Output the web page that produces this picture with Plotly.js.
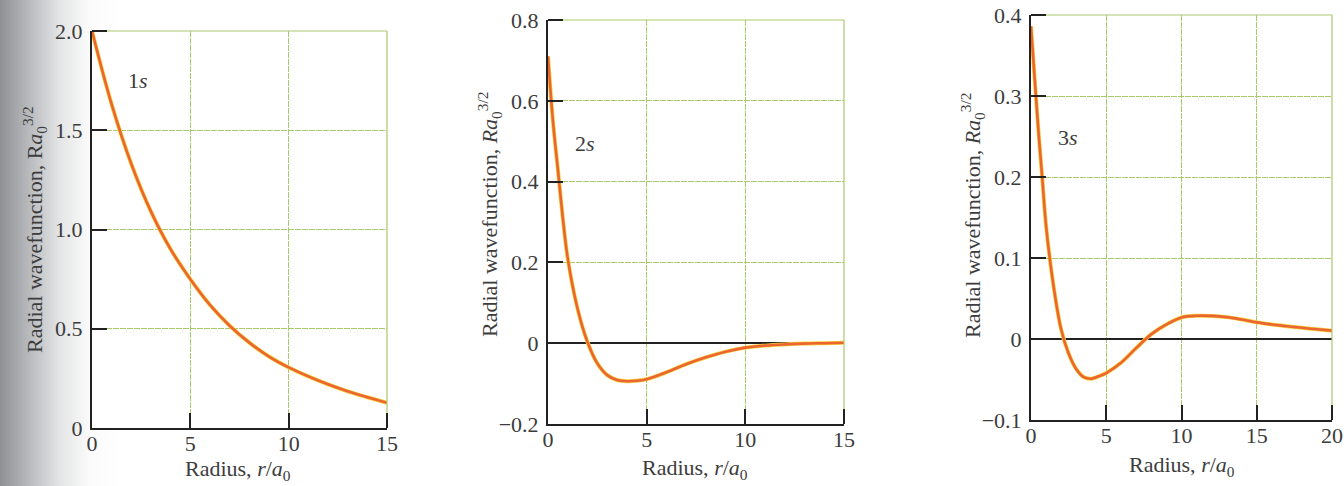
<!DOCTYPE html>
<html>
<head>
<meta charset="utf-8">
<script src="https://cdn.plot.ly/plotly-3.0.1.min.js"></script>
<style>
  html, body { margin: 0; padding: 0; }
  body {
    width: 1344px; height: 486px; overflow: hidden;
    background: linear-gradient(to right, #8e9094 0px, #b9bbbe 30px, #e4e5e6 60px, #fbfbfb 90px, #ffffff 120px);
  }
  #chart { width: 1344px; height: 486px; }
</style>
</head>
<body>
<div id="chart"></div>
<script>
// ---- Data ----
const r1s = [0, 1, 2, 3, 4, 5, 6, 7, 8, 9, 10, 11, 12, 13, 14, 15];
const R1s = [2.0, 1.63, 1.33, 1.09, 0.90, 0.75, 0.62, 0.515, 0.43, 0.36, 0.305, 0.26, 0.22, 0.185, 0.155, 0.127];

const r2s = [0, 0.25, 0.5, 0.75, 1, 1.5, 2, 2.5, 3, 3.5, 4, 4.5, 5, 6, 7, 8, 9, 10, 11, 12, 13, 14, 15];
const R2s = [0.71, 0.55, 0.43, 0.31, 0.21, 0.085, 0.003, -0.05, -0.079, -0.091, -0.094, -0.093, -0.089, -0.072, -0.052, -0.035, -0.021, -0.011, -0.006, -0.003, -0.001, 0.0, 0.001];

const r3s = [0, 0.25, 0.5, 0.75, 1, 1.5, 2, 2.5, 3, 3.5, 4, 4.5, 5, 6, 7, 8, 9, 10, 11, 12, 13, 14, 15, 16, 17, 18, 19, 20];
const R3s = [0.386, 0.32, 0.255, 0.198, 0.14, 0.065, 0.012, -0.018, -0.037, -0.047, -0.049, -0.046, -0.042, -0.029, -0.011, 0.006, 0.018, 0.0266, 0.0287, 0.0285, 0.027, 0.024, 0.0205, 0.018, 0.0158, 0.0138, 0.012, 0.0103];

const labels = ["1s", "2s", "3s"];
const labelX = [1.73, 1.27, 1.68];
const labelY = [1.75, 0.495, 0.249];

const xTicks1 = [0, 5, 10, 15];
const xTicks3 = [0, 5, 10, 15, 20];
const yTicks1 = [0, 0.5, 1.0, 1.5, 2.0];
const yText1 = ["0", "0.5", "1.0", "1.5", "2.0"];
const yTicks2 = [-0.2, 0, 0.2, 0.4, 0.6, 0.8];
const yText2 = ["\u22120.2", "0", "0.2", "0.4", "0.6", "0.8"];
const yTicks3 = [-0.1, 0, 0.1, 0.2, 0.3, 0.4];
const yText3 = ["\u22120.1", "0", "0.1", "0.2", "0.3", "0.4"];

// ---- Styling ----
const FONT = "Liberation Serif, DejaVu Serif, serif";
const TXT = "#3c3c3c";
const GRID = "#a9c96b";
const CURVE = "#ec6530";

function curve(x, y, xa, ya) {
  return [
    { x: x, y: y, xaxis: xa, yaxis: ya, type: "scatter", mode: "lines",
      line: { color: "#f4d03c", width: 4, shape: "spline", smoothing: 1 }, hoverinfo: "skip", showlegend: false },
    { x: x, y: y, xaxis: xa, yaxis: ya, type: "scatter", mode: "lines",
      line: { color: CURVE, width: 2.6, shape: "spline", smoothing: 1 }, showlegend: false }
  ];
}

const data = [].concat(
  curve(r1s, R1s, "x", "y"),
  curve(r2s, R2s, "x2", "y2"),
  curve(r3s, R3s, "x3", "y3")
);

function xax(domain, range, ticks, anchor) {
  return {
    domain: domain, range: range, anchor: anchor,
    tickvals: ticks, ticktext: ticks.map(String),
    ticks: "inside", ticklen: 15, tickwidth: 2, tickcolor: "#222",
    showline: true, linecolor: "#222", linewidth: 2,
    showgrid: true, gridcolor: GRID, gridwidth: 1, griddash: "6px,1px",
    zeroline: false, fixedrange: true, ticklabelstandoff: -5,
    tickfont: { family: FONT, size: 22, color: TXT }
  };
}
function yax(domain, range, ticks, text, anchor, zl) {
  return {
    domain: domain, range: range, anchor: anchor,
    tickvals: ticks, ticktext: text,
    ticks: "inside", ticklen: 15, tickwidth: 2, tickcolor: "#222",
    showline: true, linecolor: "#222", linewidth: 2,
    showgrid: true, gridcolor: GRID, gridwidth: 1, griddash: "6px,1px",
    zeroline: zl, zerolinecolor: "#222", zerolinewidth: 1.5,
    fixedrange: true, ticklabelstandoff: 3,
    tickfont: { family: FONT, size: 22, color: TXT }
  };
}

const annotations = [];
["x", "x2", "x3"].forEach(function (xa, i) {
  annotations.push({
    x: labelX[i], y: labelY[i], xref: xa, yref: ["y", "y2", "y3"][i],
    text: labels[i].slice(0, 1) + "<i>" + labels[i].slice(1) + "</i>",
    showarrow: false, xanchor: "left", yanchor: "middle",
    font: { family: FONT, size: 22, color: TXT }
  });
});
const xTitleX = [238, 695, 1182];
const xTitleBottom = [486, 485, 482];
const yTitleX = [35, 489, 972];
const yTitleY = [230, 214, 215];
const yTitleText = [
  "Radial wavefunction, R<i>a</i><sub>0</sub><sup>3/2</sup>",
  "Radial wavefunction, <i>Ra</i><sub>0</sub><sup>3/2</sup>",
  "Radial wavefunction, <i>Ra</i><sub>0</sub><sup>3/2</sup>"
];
for (let i = 0; i < 3; i++) {
  annotations.push({
    x: xTitleX[i] / 1344, y: 1 - xTitleBottom[i] / 486, xref: "paper", yref: "paper",
    text: "Radius, <i>r</i>/<i>a</i><sub>0</sub>", showarrow: false,
    xanchor: "center", yanchor: "bottom",
    font: { family: FONT, size: 22, color: TXT }
  });
  annotations.push({
    x: yTitleX[i] / 1344, y: 1 - yTitleY[i] / 486, xref: "paper", yref: "paper",
    text: yTitleText[i], showarrow: false, textangle: -90,
    xanchor: "center", yanchor: "middle",
    font: { family: FONT, size: 22, color: TXT }
  });
}

// green frame lines on the top and right edges, plus the end ticks
const shapes = [];
["x", "x2", "x3"].forEach(function (xa, i) {
  const ya = ["y", "y2", "y3"][i];
  shapes.push({ type: "line", xref: xa + " domain", yref: ya + " domain", x0: 0, x1: 1, y0: 1, y1: 1,
    line: { color: GRID, width: 1.2 } });
  shapes.push({ type: "line", xref: xa + " domain", yref: ya + " domain", x0: 1, x1: 1, y0: 0, y1: 1,
    line: { color: GRID, width: 1.2 } });
  shapes.push({ type: "line", xref: xa + " domain", yref: ya + " domain",
    ysizemode: "pixel", yanchor: 0, x0: 1, x1: 1, y0: 0, y1: 15,
    line: { color: "#222", width: 2 } });
  shapes.push({ type: "line", xref: xa + " domain", yref: ya + " domain",
    xsizemode: "pixel", xanchor: 0, x0: 0, x1: 15, y0: 1, y1: 1,
    line: { color: "#222", width: 2 } });
});

const layout = {
  width: 1344, height: 486,
  margin: { l: 0, r: 0, t: 0, b: 0 },
  paper_bgcolor: "rgba(0,0,0,0)",
  plot_bgcolor: "#ffffff",
  showlegend: false,
  xaxis: xax([92 / 1344, 387 / 1344], [0, 15], xTicks1, "y"),
  yaxis: yax([1 - 428 / 486, 1 - 31 / 486], [0, 2.0], yTicks1, yText1, "x", false),
  xaxis2: xax([548 / 1344, 844 / 1344], [0, 15], xTicks1, "y2"),
  yaxis2: yax([1 - 424 / 486, 1 - 20 / 486], [-0.2, 0.8], yTicks2, yText2, "x2", true),
  xaxis3: xax([1031 / 1344, 1332 / 1344], [0, 20], xTicks3, "y3"),
  yaxis3: yax([1 - 420 / 486, 1 - 15 / 486], [-0.1, 0.4], yTicks3, yText3, "x3", true),
  annotations: annotations,
  shapes: shapes
};

Plotly.newPlot("chart", data, layout, { displayModeBar: false, staticPlot: true });
</script>
</body>
</html>
